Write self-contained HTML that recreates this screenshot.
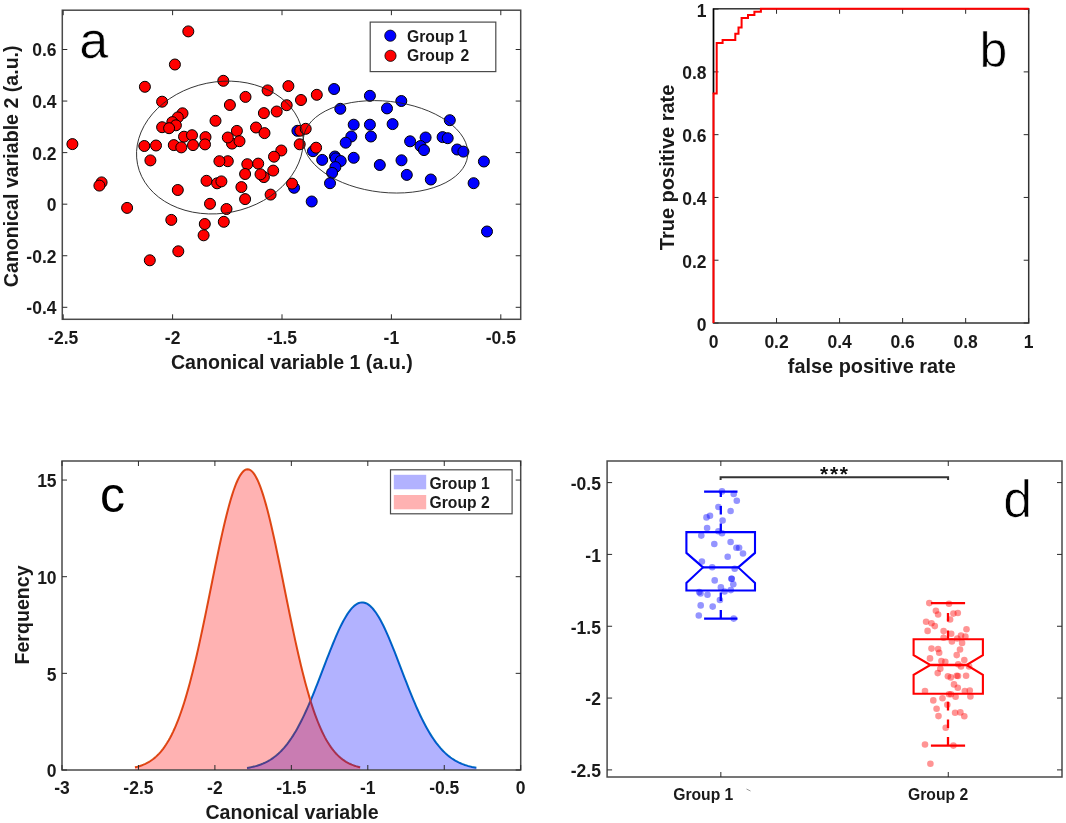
<!DOCTYPE html>
<html><head><meta charset="utf-8"><style>
html,body{margin:0;padding:0;background:#fff;}
svg{display:block;will-change:transform;font-family:"Liberation Sans", sans-serif;}
</style></head><body>
<svg width="1066" height="823" viewBox="0 0 1066 823">
<rect x="0" y="0" width="1066" height="823" fill="#fff"/>
<rect x="62.30" y="10.20" width="458.40" height="309.10" fill="none" stroke="#4a4a4a" stroke-width="1.5"/>
<line x1="63.20" y1="319.30" x2="63.20" y2="314.30" stroke="#2a2a2a" stroke-width="1" />
<line x1="63.20" y1="10.20" x2="63.20" y2="15.20" stroke="#2a2a2a" stroke-width="1" />
<line x1="172.60" y1="319.30" x2="172.60" y2="314.30" stroke="#2a2a2a" stroke-width="1" />
<line x1="172.60" y1="10.20" x2="172.60" y2="15.20" stroke="#2a2a2a" stroke-width="1" />
<line x1="282.00" y1="319.30" x2="282.00" y2="314.30" stroke="#2a2a2a" stroke-width="1" />
<line x1="282.00" y1="10.20" x2="282.00" y2="15.20" stroke="#2a2a2a" stroke-width="1" />
<line x1="391.40" y1="319.30" x2="391.40" y2="314.30" stroke="#2a2a2a" stroke-width="1" />
<line x1="391.40" y1="10.20" x2="391.40" y2="15.20" stroke="#2a2a2a" stroke-width="1" />
<line x1="500.80" y1="319.30" x2="500.80" y2="314.30" stroke="#2a2a2a" stroke-width="1" />
<line x1="500.80" y1="10.20" x2="500.80" y2="15.20" stroke="#2a2a2a" stroke-width="1" />
<line x1="62.30" y1="307.30" x2="67.30" y2="307.30" stroke="#2a2a2a" stroke-width="1" />
<line x1="520.70" y1="307.30" x2="515.70" y2="307.30" stroke="#2a2a2a" stroke-width="1" />
<line x1="62.30" y1="255.74" x2="67.30" y2="255.74" stroke="#2a2a2a" stroke-width="1" />
<line x1="520.70" y1="255.74" x2="515.70" y2="255.74" stroke="#2a2a2a" stroke-width="1" />
<line x1="62.30" y1="204.18" x2="67.30" y2="204.18" stroke="#2a2a2a" stroke-width="1" />
<line x1="520.70" y1="204.18" x2="515.70" y2="204.18" stroke="#2a2a2a" stroke-width="1" />
<line x1="62.30" y1="152.62" x2="67.30" y2="152.62" stroke="#2a2a2a" stroke-width="1" />
<line x1="520.70" y1="152.62" x2="515.70" y2="152.62" stroke="#2a2a2a" stroke-width="1" />
<line x1="62.30" y1="101.06" x2="67.30" y2="101.06" stroke="#2a2a2a" stroke-width="1" />
<line x1="520.70" y1="101.06" x2="515.70" y2="101.06" stroke="#2a2a2a" stroke-width="1" />
<line x1="62.30" y1="49.50" x2="67.30" y2="49.50" stroke="#2a2a2a" stroke-width="1" />
<line x1="520.70" y1="49.50" x2="515.70" y2="49.50" stroke="#2a2a2a" stroke-width="1" />
<text x="63.20" y="344.00" font-size="17.5" font-weight="bold" text-anchor="middle" fill="#1a1a1a" >-2.5</text>
<text x="172.60" y="344.00" font-size="17.5" font-weight="bold" text-anchor="middle" fill="#1a1a1a" >-2</text>
<text x="282.00" y="344.00" font-size="17.5" font-weight="bold" text-anchor="middle" fill="#1a1a1a" >-1.5</text>
<text x="391.40" y="344.00" font-size="17.5" font-weight="bold" text-anchor="middle" fill="#1a1a1a" >-1</text>
<text x="500.80" y="344.00" font-size="17.5" font-weight="bold" text-anchor="middle" fill="#1a1a1a" >-0.5</text>
<text x="56.50" y="314.20" font-size="17.5" font-weight="bold" text-anchor="end" fill="#1a1a1a" >-0.4</text>
<text x="56.50" y="262.64" font-size="17.5" font-weight="bold" text-anchor="end" fill="#1a1a1a" >-0.2</text>
<text x="56.50" y="211.08" font-size="17.5" font-weight="bold" text-anchor="end" fill="#1a1a1a" >0</text>
<text x="56.50" y="159.52" font-size="17.5" font-weight="bold" text-anchor="end" fill="#1a1a1a" >0.2</text>
<text x="56.50" y="107.96" font-size="17.5" font-weight="bold" text-anchor="end" fill="#1a1a1a" >0.4</text>
<text x="56.50" y="56.40" font-size="17.5" font-weight="bold" text-anchor="end" fill="#1a1a1a" >0.6</text>
<circle cx="334.1" cy="89" r="5.5" fill="#0000ff" stroke="#000" stroke-width="1"/>
<circle cx="369.9" cy="95.8" r="5.5" fill="#0000ff" stroke="#000" stroke-width="1"/>
<circle cx="401.3" cy="101" r="5.5" fill="#0000ff" stroke="#000" stroke-width="1"/>
<circle cx="340.3" cy="108.8" r="5.5" fill="#0000ff" stroke="#000" stroke-width="1"/>
<circle cx="387" cy="108.4" r="5.5" fill="#0000ff" stroke="#000" stroke-width="1"/>
<circle cx="449.8" cy="120.2" r="5.5" fill="#0000ff" stroke="#000" stroke-width="1"/>
<circle cx="353.7" cy="124.7" r="5.5" fill="#0000ff" stroke="#000" stroke-width="1"/>
<circle cx="369.9" cy="124.7" r="5.5" fill="#0000ff" stroke="#000" stroke-width="1"/>
<circle cx="392.6" cy="124.1" r="5.5" fill="#0000ff" stroke="#000" stroke-width="1"/>
<circle cx="351.3" cy="136.5" r="5.5" fill="#0000ff" stroke="#000" stroke-width="1"/>
<circle cx="370.9" cy="136.5" r="5.5" fill="#0000ff" stroke="#000" stroke-width="1"/>
<circle cx="345.7" cy="142.7" r="5.5" fill="#0000ff" stroke="#000" stroke-width="1"/>
<circle cx="410.1" cy="141.3" r="5.5" fill="#0000ff" stroke="#000" stroke-width="1"/>
<circle cx="425.6" cy="137.5" r="5.5" fill="#0000ff" stroke="#000" stroke-width="1"/>
<circle cx="442.6" cy="137.1" r="5.5" fill="#0000ff" stroke="#000" stroke-width="1"/>
<circle cx="447.7" cy="138.2" r="5.5" fill="#0000ff" stroke="#000" stroke-width="1"/>
<circle cx="420.5" cy="146" r="5.5" fill="#0000ff" stroke="#000" stroke-width="1"/>
<circle cx="424" cy="150.1" r="5.5" fill="#0000ff" stroke="#000" stroke-width="1"/>
<circle cx="457.2" cy="149.5" r="5.5" fill="#0000ff" stroke="#000" stroke-width="1"/>
<circle cx="463.4" cy="151.6" r="5.5" fill="#0000ff" stroke="#000" stroke-width="1"/>
<circle cx="297.4" cy="130.8" r="5.5" fill="#0000ff" stroke="#000" stroke-width="1"/>
<circle cx="313" cy="151.2" r="5.5" fill="#0000ff" stroke="#000" stroke-width="1"/>
<circle cx="322.2" cy="159.9" r="5.5" fill="#0000ff" stroke="#000" stroke-width="1"/>
<circle cx="334.9" cy="156.5" r="5.5" fill="#0000ff" stroke="#000" stroke-width="1"/>
<circle cx="335.8" cy="158.4" r="5.5" fill="#0000ff" stroke="#000" stroke-width="1"/>
<circle cx="340.7" cy="161" r="5.5" fill="#0000ff" stroke="#000" stroke-width="1"/>
<circle cx="353.7" cy="157.8" r="5.5" fill="#0000ff" stroke="#000" stroke-width="1"/>
<circle cx="335.4" cy="167.1" r="5.5" fill="#0000ff" stroke="#000" stroke-width="1"/>
<circle cx="332.1" cy="172.9" r="5.5" fill="#0000ff" stroke="#000" stroke-width="1"/>
<circle cx="330" cy="183.2" r="5.5" fill="#0000ff" stroke="#000" stroke-width="1"/>
<circle cx="379.8" cy="165" r="5.5" fill="#0000ff" stroke="#000" stroke-width="1"/>
<circle cx="401.5" cy="160.3" r="5.5" fill="#0000ff" stroke="#000" stroke-width="1"/>
<circle cx="406.8" cy="174.9" r="5.5" fill="#0000ff" stroke="#000" stroke-width="1"/>
<circle cx="430.8" cy="179.5" r="5.5" fill="#0000ff" stroke="#000" stroke-width="1"/>
<circle cx="483.9" cy="161.5" r="5.5" fill="#0000ff" stroke="#000" stroke-width="1"/>
<circle cx="473.6" cy="183.2" r="5.5" fill="#0000ff" stroke="#000" stroke-width="1"/>
<circle cx="294.1" cy="187.8" r="5.5" fill="#0000ff" stroke="#000" stroke-width="1"/>
<circle cx="311.7" cy="201.5" r="5.5" fill="#0000ff" stroke="#000" stroke-width="1"/>
<circle cx="487" cy="231.5" r="5.5" fill="#0000ff" stroke="#000" stroke-width="1"/>
<circle cx="188.3" cy="31.4" r="5.5" fill="#ff0000" stroke="#000" stroke-width="1"/>
<circle cx="174.9" cy="64.5" r="5.5" fill="#ff0000" stroke="#000" stroke-width="1"/>
<circle cx="144.9" cy="86.8" r="5.5" fill="#ff0000" stroke="#000" stroke-width="1"/>
<circle cx="162.1" cy="101.7" r="5.5" fill="#ff0000" stroke="#000" stroke-width="1"/>
<circle cx="182.5" cy="113.3" r="5.5" fill="#ff0000" stroke="#000" stroke-width="1"/>
<circle cx="177.8" cy="117.4" r="5.5" fill="#ff0000" stroke="#000" stroke-width="1"/>
<circle cx="172.3" cy="122.1" r="5.5" fill="#ff0000" stroke="#000" stroke-width="1"/>
<circle cx="175.9" cy="125.3" r="5.5" fill="#ff0000" stroke="#000" stroke-width="1"/>
<circle cx="162.1" cy="127.2" r="5.5" fill="#ff0000" stroke="#000" stroke-width="1"/>
<circle cx="169.1" cy="128.2" r="5.5" fill="#ff0000" stroke="#000" stroke-width="1"/>
<circle cx="184" cy="136.7" r="5.5" fill="#ff0000" stroke="#000" stroke-width="1"/>
<circle cx="192" cy="135.2" r="5.5" fill="#ff0000" stroke="#000" stroke-width="1"/>
<circle cx="72.4" cy="144.1" r="5.5" fill="#ff0000" stroke="#000" stroke-width="1"/>
<circle cx="101.6" cy="182.4" r="5.5" fill="#ff0000" stroke="#000" stroke-width="1"/>
<circle cx="99.4" cy="185.6" r="5.5" fill="#ff0000" stroke="#000" stroke-width="1"/>
<circle cx="127.1" cy="207.9" r="5.5" fill="#ff0000" stroke="#000" stroke-width="1"/>
<circle cx="144.3" cy="146" r="5.5" fill="#ff0000" stroke="#000" stroke-width="1"/>
<circle cx="156" cy="145.5" r="5.5" fill="#ff0000" stroke="#000" stroke-width="1"/>
<circle cx="150.4" cy="160.4" r="5.5" fill="#ff0000" stroke="#000" stroke-width="1"/>
<circle cx="173.8" cy="145.1" r="5.5" fill="#ff0000" stroke="#000" stroke-width="1"/>
<circle cx="181.3" cy="147.4" r="5.5" fill="#ff0000" stroke="#000" stroke-width="1"/>
<circle cx="193" cy="145.1" r="5.5" fill="#ff0000" stroke="#000" stroke-width="1"/>
<circle cx="177.8" cy="190" r="5.5" fill="#ff0000" stroke="#000" stroke-width="1"/>
<circle cx="171.3" cy="219.9" r="5.5" fill="#ff0000" stroke="#000" stroke-width="1"/>
<circle cx="210" cy="203.8" r="5.5" fill="#ff0000" stroke="#000" stroke-width="1"/>
<circle cx="226.5" cy="209" r="5.5" fill="#ff0000" stroke="#000" stroke-width="1"/>
<circle cx="204.8" cy="224" r="5.5" fill="#ff0000" stroke="#000" stroke-width="1"/>
<circle cx="223.8" cy="221.8" r="5.5" fill="#ff0000" stroke="#000" stroke-width="1"/>
<circle cx="203.6" cy="235.3" r="5.5" fill="#ff0000" stroke="#000" stroke-width="1"/>
<circle cx="178.3" cy="251.3" r="5.5" fill="#ff0000" stroke="#000" stroke-width="1"/>
<circle cx="149.8" cy="260.3" r="5.5" fill="#ff0000" stroke="#000" stroke-width="1"/>
<circle cx="223.3" cy="80.8" r="5.5" fill="#ff0000" stroke="#000" stroke-width="1"/>
<circle cx="267.6" cy="90.4" r="5.5" fill="#ff0000" stroke="#000" stroke-width="1"/>
<circle cx="288.4" cy="86.1" r="5.5" fill="#ff0000" stroke="#000" stroke-width="1"/>
<circle cx="245.5" cy="96.9" r="5.5" fill="#ff0000" stroke="#000" stroke-width="1"/>
<circle cx="229.9" cy="105" r="5.5" fill="#ff0000" stroke="#000" stroke-width="1"/>
<circle cx="286.7" cy="105.2" r="5.5" fill="#ff0000" stroke="#000" stroke-width="1"/>
<circle cx="276.7" cy="111.5" r="5.5" fill="#ff0000" stroke="#000" stroke-width="1"/>
<circle cx="263.9" cy="113.1" r="5.5" fill="#ff0000" stroke="#000" stroke-width="1"/>
<circle cx="301" cy="100" r="5.5" fill="#ff0000" stroke="#000" stroke-width="1"/>
<circle cx="316.8" cy="94.8" r="5.5" fill="#ff0000" stroke="#000" stroke-width="1"/>
<circle cx="215.5" cy="120.8" r="5.5" fill="#ff0000" stroke="#000" stroke-width="1"/>
<circle cx="256" cy="127.5" r="5.5" fill="#ff0000" stroke="#000" stroke-width="1"/>
<circle cx="264.5" cy="133.1" r="5.5" fill="#ff0000" stroke="#000" stroke-width="1"/>
<circle cx="236.9" cy="130.9" r="5.5" fill="#ff0000" stroke="#000" stroke-width="1"/>
<circle cx="232" cy="143.6" r="5.5" fill="#ff0000" stroke="#000" stroke-width="1"/>
<circle cx="227.8" cy="137.5" r="5.5" fill="#ff0000" stroke="#000" stroke-width="1"/>
<circle cx="239.5" cy="141.2" r="5.5" fill="#ff0000" stroke="#000" stroke-width="1"/>
<circle cx="205.5" cy="137.1" r="5.5" fill="#ff0000" stroke="#000" stroke-width="1"/>
<circle cx="205" cy="144.4" r="5.5" fill="#ff0000" stroke="#000" stroke-width="1"/>
<circle cx="281.3" cy="150.5" r="5.5" fill="#ff0000" stroke="#000" stroke-width="1"/>
<circle cx="300.3" cy="130.7" r="5.5" fill="#ff0000" stroke="#000" stroke-width="1"/>
<circle cx="305.7" cy="128.8" r="5.5" fill="#ff0000" stroke="#000" stroke-width="1"/>
<circle cx="299.7" cy="144.3" r="5.5" fill="#ff0000" stroke="#000" stroke-width="1"/>
<circle cx="316.1" cy="147.7" r="5.5" fill="#ff0000" stroke="#000" stroke-width="1"/>
<circle cx="274" cy="156.7" r="5.5" fill="#ff0000" stroke="#000" stroke-width="1"/>
<circle cx="227.8" cy="161.2" r="5.5" fill="#ff0000" stroke="#000" stroke-width="1"/>
<circle cx="219.4" cy="161.2" r="5.5" fill="#ff0000" stroke="#000" stroke-width="1"/>
<circle cx="247.3" cy="164.2" r="5.5" fill="#ff0000" stroke="#000" stroke-width="1"/>
<circle cx="258.2" cy="163.6" r="5.5" fill="#ff0000" stroke="#000" stroke-width="1"/>
<circle cx="245.1" cy="174" r="5.5" fill="#ff0000" stroke="#000" stroke-width="1"/>
<circle cx="263.9" cy="177.1" r="5.5" fill="#ff0000" stroke="#000" stroke-width="1"/>
<circle cx="260.5" cy="174.3" r="5.5" fill="#ff0000" stroke="#000" stroke-width="1"/>
<circle cx="273.2" cy="170.6" r="5.5" fill="#ff0000" stroke="#000" stroke-width="1"/>
<circle cx="206.5" cy="180.8" r="5.5" fill="#ff0000" stroke="#000" stroke-width="1"/>
<circle cx="217.1" cy="183.3" r="5.5" fill="#ff0000" stroke="#000" stroke-width="1"/>
<circle cx="221.4" cy="181.4" r="5.5" fill="#ff0000" stroke="#000" stroke-width="1"/>
<circle cx="241.4" cy="187.1" r="5.5" fill="#ff0000" stroke="#000" stroke-width="1"/>
<circle cx="292" cy="183.6" r="5.5" fill="#ff0000" stroke="#000" stroke-width="1"/>
<circle cx="245.1" cy="199.1" r="5.5" fill="#ff0000" stroke="#000" stroke-width="1"/>
<circle cx="270.6" cy="194.6" r="5.5" fill="#ff0000" stroke="#000" stroke-width="1"/>
<ellipse cx="219.86" cy="147.54" rx="84.0" ry="65.6" transform="rotate(-11.5 219.86 147.54)" fill="none" stroke="#222" stroke-width="0.85"/>
<ellipse cx="385.56" cy="146.82" rx="82.6" ry="45.6" transform="rotate(6.28 385.56 146.82)" fill="none" stroke="#222" stroke-width="0.85"/>
<rect x="370.20" y="22.10" width="125.60" height="49.50" fill="#fff" stroke="#4a4a4a" stroke-width="1.2"/>
<circle cx="390.3" cy="35.7" r="5.6" fill="#0000ff" stroke="#000" stroke-width="0.8"/>
<circle cx="390.5" cy="55.8" r="5.6" fill="#ff0000" stroke="#000" stroke-width="0.8"/>
<text x="407.00" y="41.90" font-size="15.7" font-weight="bold" text-anchor="start" fill="#1a1a1a" >Group 1</text>
<text x="407.00" y="61.40" font-size="15.7" font-weight="bold" text-anchor="start" fill="#1a1a1a" word-spacing="2">Group 2</text>
<text x="79.30" y="57.50" font-size="52" font-weight="normal" text-anchor="start" fill="#000" stroke="#fff" stroke-width="0.6">a</text>
<text x="291.80" y="368.70" font-size="19.6" font-weight="bold" text-anchor="middle" fill="#1a1a1a" >Canonical variable 1 (a.u.)</text>
<text x="18.20" y="166.30" font-size="19.6" font-weight="bold" text-anchor="middle" fill="#1a1a1a" transform="rotate(-90 18.20 166.30)" >Canonical variable 2 (a.u.)</text>
<rect x="713.50" y="8.80" width="315.20" height="314.20" fill="none" stroke="#333" stroke-width="1.5"/>
<line x1="713.50" y1="323.00" x2="713.50" y2="318.00" stroke="#2a2a2a" stroke-width="1" />
<line x1="713.50" y1="8.80" x2="713.50" y2="13.80" stroke="#2a2a2a" stroke-width="1" />
<line x1="776.54" y1="323.00" x2="776.54" y2="318.00" stroke="#2a2a2a" stroke-width="1" />
<line x1="776.54" y1="8.80" x2="776.54" y2="13.80" stroke="#2a2a2a" stroke-width="1" />
<line x1="839.58" y1="323.00" x2="839.58" y2="318.00" stroke="#2a2a2a" stroke-width="1" />
<line x1="839.58" y1="8.80" x2="839.58" y2="13.80" stroke="#2a2a2a" stroke-width="1" />
<line x1="902.62" y1="323.00" x2="902.62" y2="318.00" stroke="#2a2a2a" stroke-width="1" />
<line x1="902.62" y1="8.80" x2="902.62" y2="13.80" stroke="#2a2a2a" stroke-width="1" />
<line x1="965.66" y1="323.00" x2="965.66" y2="318.00" stroke="#2a2a2a" stroke-width="1" />
<line x1="965.66" y1="8.80" x2="965.66" y2="13.80" stroke="#2a2a2a" stroke-width="1" />
<line x1="1028.70" y1="323.00" x2="1028.70" y2="318.00" stroke="#2a2a2a" stroke-width="1" />
<line x1="1028.70" y1="8.80" x2="1028.70" y2="13.80" stroke="#2a2a2a" stroke-width="1" />
<line x1="713.50" y1="323.00" x2="718.50" y2="323.00" stroke="#2a2a2a" stroke-width="1" />
<line x1="1028.70" y1="323.00" x2="1023.70" y2="323.00" stroke="#2a2a2a" stroke-width="1" />
<line x1="713.50" y1="260.22" x2="718.50" y2="260.22" stroke="#2a2a2a" stroke-width="1" />
<line x1="1028.70" y1="260.22" x2="1023.70" y2="260.22" stroke="#2a2a2a" stroke-width="1" />
<line x1="713.50" y1="197.44" x2="718.50" y2="197.44" stroke="#2a2a2a" stroke-width="1" />
<line x1="1028.70" y1="197.44" x2="1023.70" y2="197.44" stroke="#2a2a2a" stroke-width="1" />
<line x1="713.50" y1="134.66" x2="718.50" y2="134.66" stroke="#2a2a2a" stroke-width="1" />
<line x1="1028.70" y1="134.66" x2="1023.70" y2="134.66" stroke="#2a2a2a" stroke-width="1" />
<line x1="713.50" y1="71.88" x2="718.50" y2="71.88" stroke="#2a2a2a" stroke-width="1" />
<line x1="1028.70" y1="71.88" x2="1023.70" y2="71.88" stroke="#2a2a2a" stroke-width="1" />
<line x1="713.50" y1="9.10" x2="718.50" y2="9.10" stroke="#2a2a2a" stroke-width="1" />
<line x1="1028.70" y1="9.10" x2="1023.70" y2="9.10" stroke="#2a2a2a" stroke-width="1" />
<text x="713.50" y="348.30" font-size="17.5" font-weight="bold" text-anchor="middle" fill="#1a1a1a" >0</text>
<text x="776.54" y="348.30" font-size="17.5" font-weight="bold" text-anchor="middle" fill="#1a1a1a" >0.2</text>
<text x="839.58" y="348.30" font-size="17.5" font-weight="bold" text-anchor="middle" fill="#1a1a1a" >0.4</text>
<text x="902.62" y="348.30" font-size="17.5" font-weight="bold" text-anchor="middle" fill="#1a1a1a" >0.6</text>
<text x="965.66" y="348.30" font-size="17.5" font-weight="bold" text-anchor="middle" fill="#1a1a1a" >0.8</text>
<text x="1028.70" y="348.30" font-size="17.5" font-weight="bold" text-anchor="middle" fill="#1a1a1a" >1</text>
<text x="706.50" y="330.60" font-size="17.5" font-weight="bold" text-anchor="end" fill="#1a1a1a" >0</text>
<text x="706.50" y="267.82" font-size="17.5" font-weight="bold" text-anchor="end" fill="#1a1a1a" >0.2</text>
<text x="706.50" y="205.04" font-size="17.5" font-weight="bold" text-anchor="end" fill="#1a1a1a" >0.4</text>
<text x="706.50" y="142.26" font-size="17.5" font-weight="bold" text-anchor="end" fill="#1a1a1a" >0.6</text>
<text x="706.50" y="79.48" font-size="17.5" font-weight="bold" text-anchor="end" fill="#1a1a1a" >0.8</text>
<text x="706.50" y="16.70" font-size="17.5" font-weight="bold" text-anchor="end" fill="#1a1a1a" >1</text>
<line x1="713.50" y1="8.80" x2="713.50" y2="94.00" stroke="#000" stroke-width="1.4" />
<path d="M713.5,323 V93.6 H716.7 V43 H722.6 V40.1 H735.3 V33.8 H738.5 V27.6 H741.6 V18.1 H748 V15.1 H754.4 V11.7 H760.9 V8.8 H1028.7" fill="none" stroke="#ff0000" stroke-width="2"/>
<text x="979.40" y="66.60" font-size="50" font-weight="normal" text-anchor="start" fill="#000" stroke="#fff" stroke-width="0.7">b</text>
<text x="871.80" y="373.20" font-size="19.9" font-weight="bold" text-anchor="middle" fill="#1a1a1a" >false positive rate</text>
<text x="674.10" y="167.40" font-size="20" font-weight="bold" text-anchor="middle" fill="#1a1a1a" transform="rotate(-90 674.10 167.40)" >True positive rate</text>
<path d="M247.01,767.93 L248.44,767.69 L249.88,767.43 L251.31,767.14 L252.74,766.83 L254.18,766.48 L255.61,766.11 L257.04,765.70 L258.48,765.25 L259.91,764.76 L261.34,764.23 L262.78,763.65 L264.21,763.03 L265.64,762.35 L267.08,761.62 L268.51,760.84 L269.94,759.99 L271.38,759.08 L272.81,758.11 L274.24,757.06 L275.68,755.94 L277.11,754.75 L278.54,753.48 L279.98,752.12 L281.41,750.68 L282.84,749.16 L284.28,747.54 L285.71,745.83 L287.15,744.03 L288.58,742.13 L290.01,740.13 L291.45,738.03 L292.88,735.84 L294.31,733.54 L295.75,731.14 L297.18,728.63 L298.61,726.03 L300.05,723.32 L301.48,720.52 L302.91,717.62 L304.35,714.62 L305.78,711.54 L307.21,708.36 L308.65,705.10 L310.08,701.76 L311.51,698.35 L312.95,694.87 L314.38,691.33 L315.81,687.73 L317.25,684.09 L318.68,680.40 L320.11,676.69 L321.55,672.95 L322.98,669.20 L324.41,665.45 L325.85,661.71 L327.28,657.98 L328.71,654.29 L330.15,650.63 L331.58,647.03 L333.02,643.50 L334.45,640.03 L335.88,636.66 L337.32,633.38 L338.75,630.21 L340.18,627.17 L341.62,624.26 L343.05,621.49 L344.48,618.87 L345.92,616.42 L347.35,614.14 L348.78,612.04 L350.22,610.13 L351.65,608.42 L353.08,606.91 L354.52,605.61 L355.95,604.53 L357.38,603.66 L358.82,603.02 L360.25,602.61 L361.68,602.42 L363.12,602.46 L364.55,602.73 L365.98,603.23 L367.42,603.95 L368.85,604.89 L370.28,606.05 L371.72,607.43 L373.15,609.01 L374.58,610.79 L376.02,612.77 L377.45,614.94 L378.89,617.28 L380.32,619.79 L381.75,622.47 L383.19,625.29 L384.62,628.25 L386.05,631.34 L387.49,634.55 L388.92,637.86 L390.35,641.27 L391.79,644.76 L393.22,648.32 L394.65,651.94 L396.09,655.61 L397.52,659.32 L398.95,663.05 L400.39,666.80 L401.82,670.55 L403.25,674.30 L404.69,678.03 L406.12,681.73 L407.55,685.40 L408.99,689.03 L410.42,692.61 L411.85,696.13 L413.29,699.59 L414.72,702.97 L416.15,706.28 L417.59,709.51 L419.02,712.66 L420.45,715.71 L421.89,718.67 L423.32,721.54 L424.76,724.31 L426.19,726.98 L427.62,729.55 L429.06,732.01 L430.49,734.38 L431.92,736.64 L433.36,738.80 L434.79,740.86 L436.22,742.83 L437.66,744.69 L439.09,746.46 L440.52,748.13 L441.96,749.72 L443.39,751.21 L444.82,752.62 L446.26,753.94 L447.69,755.19 L449.12,756.35 L450.56,757.44 L451.99,758.46 L453.42,759.42 L454.86,760.30 L456.29,761.13 L457.72,761.89 L459.16,762.60 L460.59,763.26 L462.02,763.86 L463.46,764.42 L464.89,764.94 L466.32,765.41 L467.76,765.85 L469.19,766.25 L470.63,766.61 L472.06,766.95 L473.49,767.25 L474.93,767.53 L476.36,767.78" fill="none" stroke="#0072bd" stroke-width="2"/>
<path d="M134.93,767.31 L136.34,766.97 L137.75,766.60 L139.16,766.19 L140.56,765.73 L141.97,765.23 L143.38,764.68 L144.79,764.07 L146.19,763.40 L147.60,762.67 L149.01,761.87 L150.42,760.99 L151.82,760.04 L153.23,758.99 L154.64,757.86 L156.05,756.63 L157.46,755.30 L158.86,753.86 L160.27,752.30 L161.68,750.63 L163.09,748.82 L164.49,746.88 L165.90,744.80 L167.31,742.58 L168.72,740.20 L170.12,737.66 L171.53,734.95 L172.94,732.08 L174.35,729.03 L175.75,725.80 L177.16,722.39 L178.57,718.79 L179.98,715.00 L181.39,711.01 L182.79,706.83 L184.20,702.45 L185.61,697.87 L187.02,693.09 L188.42,688.13 L189.83,682.96 L191.24,677.61 L192.65,672.07 L194.05,666.36 L195.46,660.47 L196.87,654.42 L198.28,648.21 L199.68,641.86 L201.09,635.37 L202.50,628.77 L203.91,622.05 L205.32,615.25 L206.72,608.37 L208.13,601.44 L209.54,594.46 L210.95,587.47 L212.35,580.47 L213.76,573.50 L215.17,566.57 L216.58,559.70 L217.98,552.93 L219.39,546.26 L220.80,539.73 L222.21,533.36 L223.61,527.17 L225.02,521.18 L226.43,515.42 L227.84,509.91 L229.24,504.67 L230.65,499.72 L232.06,495.09 L233.47,490.78 L234.88,486.83 L236.28,483.24 L237.69,480.04 L239.10,477.23 L240.51,474.83 L241.91,472.84 L243.32,471.28 L244.73,470.16 L246.14,469.47 L247.54,469.23 L248.95,469.42 L250.36,470.06 L251.77,471.14 L253.17,472.65 L254.58,474.59 L255.99,476.95 L257.40,479.71 L258.81,482.88 L260.21,486.42 L261.62,490.34 L263.03,494.60 L264.44,499.20 L265.84,504.12 L267.25,509.32 L268.66,514.81 L270.07,520.54 L271.47,526.51 L272.88,532.68 L274.29,539.03 L275.70,545.55 L277.10,552.20 L278.51,558.96 L279.92,565.82 L281.33,572.74 L282.74,579.71 L284.14,586.71 L285.55,593.70 L286.96,600.68 L288.37,607.62 L289.77,614.51 L291.18,621.32 L292.59,628.04 L294.00,634.66 L295.40,641.16 L296.81,647.53 L298.22,653.75 L299.63,659.82 L301.03,665.73 L302.44,671.46 L303.85,677.02 L305.26,682.39 L306.66,687.57 L308.07,692.56 L309.48,697.36 L310.89,701.96 L312.30,706.36 L313.70,710.56 L315.11,714.57 L316.52,718.39 L317.93,722.01 L319.33,725.44 L320.74,728.69 L322.15,731.76 L323.56,734.65 L324.96,737.37 L326.37,739.93 L327.78,742.32 L329.19,744.57 L330.59,746.66 L332.00,748.62 L333.41,750.44 L334.82,752.13 L336.23,753.70 L337.63,755.15 L339.04,756.49 L340.45,757.73 L341.86,758.88 L343.26,759.93 L344.67,760.89 L346.08,761.78 L347.49,762.59 L348.89,763.33 L350.30,764.00 L351.71,764.62 L353.12,765.17 L354.52,765.68 L355.93,766.14 L357.34,766.56 L358.75,766.93 L360.16,767.27" fill="none" stroke="#d95319" stroke-width="2"/>
<path d="M247.01,767.93 L248.44,767.69 L249.88,767.43 L251.31,767.14 L252.74,766.83 L254.18,766.48 L255.61,766.11 L257.04,765.70 L258.48,765.25 L259.91,764.76 L261.34,764.23 L262.78,763.65 L264.21,763.03 L265.64,762.35 L267.08,761.62 L268.51,760.84 L269.94,759.99 L271.38,759.08 L272.81,758.11 L274.24,757.06 L275.68,755.94 L277.11,754.75 L278.54,753.48 L279.98,752.12 L281.41,750.68 L282.84,749.16 L284.28,747.54 L285.71,745.83 L287.15,744.03 L288.58,742.13 L290.01,740.13 L291.45,738.03 L292.88,735.84 L294.31,733.54 L295.75,731.14 L297.18,728.63 L298.61,726.03 L300.05,723.32 L301.48,720.52 L302.91,717.62 L304.35,714.62 L305.78,711.54 L307.21,708.36 L308.65,705.10 L310.08,701.76 L311.51,698.35 L312.95,694.87 L314.38,691.33 L315.81,687.73 L317.25,684.09 L318.68,680.40 L320.11,676.69 L321.55,672.95 L322.98,669.20 L324.41,665.45 L325.85,661.71 L327.28,657.98 L328.71,654.29 L330.15,650.63 L331.58,647.03 L333.02,643.50 L334.45,640.03 L335.88,636.66 L337.32,633.38 L338.75,630.21 L340.18,627.17 L341.62,624.26 L343.05,621.49 L344.48,618.87 L345.92,616.42 L347.35,614.14 L348.78,612.04 L350.22,610.13 L351.65,608.42 L353.08,606.91 L354.52,605.61 L355.95,604.53 L357.38,603.66 L358.82,603.02 L360.25,602.61 L361.68,602.42 L363.12,602.46 L364.55,602.73 L365.98,603.23 L367.42,603.95 L368.85,604.89 L370.28,606.05 L371.72,607.43 L373.15,609.01 L374.58,610.79 L376.02,612.77 L377.45,614.94 L378.89,617.28 L380.32,619.79 L381.75,622.47 L383.19,625.29 L384.62,628.25 L386.05,631.34 L387.49,634.55 L388.92,637.86 L390.35,641.27 L391.79,644.76 L393.22,648.32 L394.65,651.94 L396.09,655.61 L397.52,659.32 L398.95,663.05 L400.39,666.80 L401.82,670.55 L403.25,674.30 L404.69,678.03 L406.12,681.73 L407.55,685.40 L408.99,689.03 L410.42,692.61 L411.85,696.13 L413.29,699.59 L414.72,702.97 L416.15,706.28 L417.59,709.51 L419.02,712.66 L420.45,715.71 L421.89,718.67 L423.32,721.54 L424.76,724.31 L426.19,726.98 L427.62,729.55 L429.06,732.01 L430.49,734.38 L431.92,736.64 L433.36,738.80 L434.79,740.86 L436.22,742.83 L437.66,744.69 L439.09,746.46 L440.52,748.13 L441.96,749.72 L443.39,751.21 L444.82,752.62 L446.26,753.94 L447.69,755.19 L449.12,756.35 L450.56,757.44 L451.99,758.46 L453.42,759.42 L454.86,760.30 L456.29,761.13 L457.72,761.89 L459.16,762.60 L460.59,763.26 L462.02,763.86 L463.46,764.42 L464.89,764.94 L466.32,765.41 L467.76,765.85 L469.19,766.25 L470.63,766.61 L472.06,766.95 L473.49,767.25 L474.93,767.53 L476.36,767.78 L476.36,770 L247.01,770 Z" fill="#0000ff" fill-opacity="0.3" stroke="none"/>
<path d="M134.93,767.31 L136.34,766.97 L137.75,766.60 L139.16,766.19 L140.56,765.73 L141.97,765.23 L143.38,764.68 L144.79,764.07 L146.19,763.40 L147.60,762.67 L149.01,761.87 L150.42,760.99 L151.82,760.04 L153.23,758.99 L154.64,757.86 L156.05,756.63 L157.46,755.30 L158.86,753.86 L160.27,752.30 L161.68,750.63 L163.09,748.82 L164.49,746.88 L165.90,744.80 L167.31,742.58 L168.72,740.20 L170.12,737.66 L171.53,734.95 L172.94,732.08 L174.35,729.03 L175.75,725.80 L177.16,722.39 L178.57,718.79 L179.98,715.00 L181.39,711.01 L182.79,706.83 L184.20,702.45 L185.61,697.87 L187.02,693.09 L188.42,688.13 L189.83,682.96 L191.24,677.61 L192.65,672.07 L194.05,666.36 L195.46,660.47 L196.87,654.42 L198.28,648.21 L199.68,641.86 L201.09,635.37 L202.50,628.77 L203.91,622.05 L205.32,615.25 L206.72,608.37 L208.13,601.44 L209.54,594.46 L210.95,587.47 L212.35,580.47 L213.76,573.50 L215.17,566.57 L216.58,559.70 L217.98,552.93 L219.39,546.26 L220.80,539.73 L222.21,533.36 L223.61,527.17 L225.02,521.18 L226.43,515.42 L227.84,509.91 L229.24,504.67 L230.65,499.72 L232.06,495.09 L233.47,490.78 L234.88,486.83 L236.28,483.24 L237.69,480.04 L239.10,477.23 L240.51,474.83 L241.91,472.84 L243.32,471.28 L244.73,470.16 L246.14,469.47 L247.54,469.23 L248.95,469.42 L250.36,470.06 L251.77,471.14 L253.17,472.65 L254.58,474.59 L255.99,476.95 L257.40,479.71 L258.81,482.88 L260.21,486.42 L261.62,490.34 L263.03,494.60 L264.44,499.20 L265.84,504.12 L267.25,509.32 L268.66,514.81 L270.07,520.54 L271.47,526.51 L272.88,532.68 L274.29,539.03 L275.70,545.55 L277.10,552.20 L278.51,558.96 L279.92,565.82 L281.33,572.74 L282.74,579.71 L284.14,586.71 L285.55,593.70 L286.96,600.68 L288.37,607.62 L289.77,614.51 L291.18,621.32 L292.59,628.04 L294.00,634.66 L295.40,641.16 L296.81,647.53 L298.22,653.75 L299.63,659.82 L301.03,665.73 L302.44,671.46 L303.85,677.02 L305.26,682.39 L306.66,687.57 L308.07,692.56 L309.48,697.36 L310.89,701.96 L312.30,706.36 L313.70,710.56 L315.11,714.57 L316.52,718.39 L317.93,722.01 L319.33,725.44 L320.74,728.69 L322.15,731.76 L323.56,734.65 L324.96,737.37 L326.37,739.93 L327.78,742.32 L329.19,744.57 L330.59,746.66 L332.00,748.62 L333.41,750.44 L334.82,752.13 L336.23,753.70 L337.63,755.15 L339.04,756.49 L340.45,757.73 L341.86,758.88 L343.26,759.93 L344.67,760.89 L346.08,761.78 L347.49,762.59 L348.89,763.33 L350.30,764.00 L351.71,764.62 L353.12,765.17 L354.52,765.68 L355.93,766.14 L357.34,766.56 L358.75,766.93 L360.16,767.27 L360.16,770 L134.93,770 Z" fill="#ff0000" fill-opacity="0.3" stroke="none"/>
<rect x="62.00" y="461.00" width="458.70" height="309.00" fill="none" stroke="#4a4a4a" stroke-width="1.5"/>
<line x1="62.00" y1="770.00" x2="62.00" y2="765.00" stroke="#2a2a2a" stroke-width="1" />
<line x1="62.00" y1="461.00" x2="62.00" y2="466.00" stroke="#2a2a2a" stroke-width="1" />
<line x1="138.45" y1="770.00" x2="138.45" y2="765.00" stroke="#2a2a2a" stroke-width="1" />
<line x1="138.45" y1="461.00" x2="138.45" y2="466.00" stroke="#2a2a2a" stroke-width="1" />
<line x1="214.90" y1="770.00" x2="214.90" y2="765.00" stroke="#2a2a2a" stroke-width="1" />
<line x1="214.90" y1="461.00" x2="214.90" y2="466.00" stroke="#2a2a2a" stroke-width="1" />
<line x1="291.35" y1="770.00" x2="291.35" y2="765.00" stroke="#2a2a2a" stroke-width="1" />
<line x1="291.35" y1="461.00" x2="291.35" y2="466.00" stroke="#2a2a2a" stroke-width="1" />
<line x1="367.80" y1="770.00" x2="367.80" y2="765.00" stroke="#2a2a2a" stroke-width="1" />
<line x1="367.80" y1="461.00" x2="367.80" y2="466.00" stroke="#2a2a2a" stroke-width="1" />
<line x1="444.25" y1="770.00" x2="444.25" y2="765.00" stroke="#2a2a2a" stroke-width="1" />
<line x1="444.25" y1="461.00" x2="444.25" y2="466.00" stroke="#2a2a2a" stroke-width="1" />
<line x1="520.70" y1="770.00" x2="520.70" y2="765.00" stroke="#2a2a2a" stroke-width="1" />
<line x1="520.70" y1="461.00" x2="520.70" y2="466.00" stroke="#2a2a2a" stroke-width="1" />
<line x1="62.00" y1="770.00" x2="67.00" y2="770.00" stroke="#2a2a2a" stroke-width="1" />
<line x1="520.70" y1="770.00" x2="515.70" y2="770.00" stroke="#2a2a2a" stroke-width="1" />
<line x1="62.00" y1="673.35" x2="67.00" y2="673.35" stroke="#2a2a2a" stroke-width="1" />
<line x1="520.70" y1="673.35" x2="515.70" y2="673.35" stroke="#2a2a2a" stroke-width="1" />
<line x1="62.00" y1="576.70" x2="67.00" y2="576.70" stroke="#2a2a2a" stroke-width="1" />
<line x1="520.70" y1="576.70" x2="515.70" y2="576.70" stroke="#2a2a2a" stroke-width="1" />
<line x1="62.00" y1="480.05" x2="67.00" y2="480.05" stroke="#2a2a2a" stroke-width="1" />
<line x1="520.70" y1="480.05" x2="515.70" y2="480.05" stroke="#2a2a2a" stroke-width="1" />
<text x="62.00" y="793.70" font-size="17.5" font-weight="bold" text-anchor="middle" fill="#1a1a1a" >-3</text>
<text x="138.45" y="793.70" font-size="17.5" font-weight="bold" text-anchor="middle" fill="#1a1a1a" >-2.5</text>
<text x="214.90" y="793.70" font-size="17.5" font-weight="bold" text-anchor="middle" fill="#1a1a1a" >-2</text>
<text x="291.35" y="793.70" font-size="17.5" font-weight="bold" text-anchor="middle" fill="#1a1a1a" >-1.5</text>
<text x="367.80" y="793.70" font-size="17.5" font-weight="bold" text-anchor="middle" fill="#1a1a1a" >-1</text>
<text x="444.25" y="793.70" font-size="17.5" font-weight="bold" text-anchor="middle" fill="#1a1a1a" >-0.5</text>
<text x="520.70" y="793.70" font-size="17.5" font-weight="bold" text-anchor="middle" fill="#1a1a1a" >0</text>
<text x="56.60" y="777.40" font-size="17.5" font-weight="bold" text-anchor="end" fill="#1a1a1a" >0</text>
<text x="56.60" y="680.75" font-size="17.5" font-weight="bold" text-anchor="end" fill="#1a1a1a" >5</text>
<text x="56.60" y="584.10" font-size="17.5" font-weight="bold" text-anchor="end" fill="#1a1a1a" >10</text>
<text x="56.60" y="487.45" font-size="17.5" font-weight="bold" text-anchor="end" fill="#1a1a1a" >15</text>
<rect x="390.50" y="469.80" width="121.60" height="44.00" fill="#fff" stroke="#4a4a4a" stroke-width="1.2"/>
<rect x="393.8" y="474.8" width="32.4" height="14.5" fill="#0000ff" fill-opacity="0.3"/>
<rect x="393.8" y="495" width="32.4" height="14.3" fill="#ff0000" fill-opacity="0.3"/>
<text x="429.50" y="488.70" font-size="15.7" font-weight="bold" text-anchor="start" fill="#1a1a1a" >Group 1</text>
<text x="429.50" y="507.70" font-size="15.7" font-weight="bold" text-anchor="start" fill="#1a1a1a" >Group 2</text>
<text x="100.10" y="511.60" font-size="50" font-weight="normal" text-anchor="start" fill="#000" >c</text>
<text x="292.00" y="818.70" font-size="19.6" font-weight="bold" text-anchor="middle" fill="#1a1a1a" >Canonical variable</text>
<text x="28.90" y="615.00" font-size="19.6" font-weight="bold" text-anchor="middle" fill="#1a1a1a" transform="rotate(-90 28.90 615.00)" >Ferquency</text>
<rect x="607.10" y="461.00" width="454.90" height="316.00" fill="none" stroke="#4a4a4a" stroke-width="1.5"/>
<line x1="720.83" y1="777.00" x2="720.83" y2="772.00" stroke="#2a2a2a" stroke-width="1" />
<line x1="720.83" y1="461.00" x2="720.83" y2="466.00" stroke="#2a2a2a" stroke-width="1" />
<line x1="948.27" y1="777.00" x2="948.27" y2="772.00" stroke="#2a2a2a" stroke-width="1" />
<line x1="948.27" y1="461.00" x2="948.27" y2="466.00" stroke="#2a2a2a" stroke-width="1" />
<line x1="607.10" y1="769.90" x2="612.10" y2="769.90" stroke="#2a2a2a" stroke-width="1" />
<line x1="1062.00" y1="769.90" x2="1057.00" y2="769.90" stroke="#2a2a2a" stroke-width="1" />
<line x1="607.10" y1="698.07" x2="612.10" y2="698.07" stroke="#2a2a2a" stroke-width="1" />
<line x1="1062.00" y1="698.07" x2="1057.00" y2="698.07" stroke="#2a2a2a" stroke-width="1" />
<line x1="607.10" y1="626.25" x2="612.10" y2="626.25" stroke="#2a2a2a" stroke-width="1" />
<line x1="1062.00" y1="626.25" x2="1057.00" y2="626.25" stroke="#2a2a2a" stroke-width="1" />
<line x1="607.10" y1="554.42" x2="612.10" y2="554.42" stroke="#2a2a2a" stroke-width="1" />
<line x1="1062.00" y1="554.42" x2="1057.00" y2="554.42" stroke="#2a2a2a" stroke-width="1" />
<line x1="607.10" y1="482.60" x2="612.10" y2="482.60" stroke="#2a2a2a" stroke-width="1" />
<line x1="1062.00" y1="482.60" x2="1057.00" y2="482.60" stroke="#2a2a2a" stroke-width="1" />
<text x="600.90" y="777.30" font-size="17.5" font-weight="bold" text-anchor="end" fill="#1a1a1a" >-2.5</text>
<text x="600.90" y="705.47" font-size="17.5" font-weight="bold" text-anchor="end" fill="#1a1a1a" >-2</text>
<text x="600.90" y="633.65" font-size="17.5" font-weight="bold" text-anchor="end" fill="#1a1a1a" >-1.5</text>
<text x="600.90" y="561.82" font-size="17.5" font-weight="bold" text-anchor="end" fill="#1a1a1a" >-1</text>
<text x="600.90" y="490.00" font-size="17.5" font-weight="bold" text-anchor="end" fill="#1a1a1a" >-0.5</text>
<text x="673.20" y="800.30" font-size="15.7" font-weight="bold" text-anchor="start" fill="#1a1a1a" >Group 1</text>
<text x="908.00" y="800.30" font-size="15.7" font-weight="bold" text-anchor="start" fill="#1a1a1a" >Group 2</text>
<line x1="746.50" y1="789.00" x2="750.50" y2="791.00" stroke="#999" stroke-width="1" />
<path d="M720.6,480 V477.2 H948.1 V480" fill="none" stroke="#333" stroke-width="2"/>
<text x="834.90" y="481.30" font-size="21" font-weight="bold" text-anchor="middle" fill="#111" letter-spacing="1.7">***</text>
<text x="1003.30" y="516.60" font-size="52" font-weight="normal" text-anchor="start" fill="#000" stroke="#fff" stroke-width="0.7">d</text>
<circle cx="722" cy="491.4" r="3.3" fill="#0000ff" fill-opacity="0.42"/>
<circle cx="733.7" cy="494" r="3.3" fill="#0000ff" fill-opacity="0.42"/>
<circle cx="736.8" cy="500.7" r="3.3" fill="#0000ff" fill-opacity="0.42"/>
<circle cx="718.4" cy="507" r="3.3" fill="#0000ff" fill-opacity="0.42"/>
<circle cx="730.6" cy="511" r="3.3" fill="#0000ff" fill-opacity="0.42"/>
<circle cx="706.5" cy="517.4" r="3.3" fill="#0000ff" fill-opacity="0.42"/>
<circle cx="710" cy="515.8" r="3.3" fill="#0000ff" fill-opacity="0.42"/>
<circle cx="722.6" cy="520.5" r="3.3" fill="#0000ff" fill-opacity="0.42"/>
<circle cx="707.1" cy="528.1" r="3.3" fill="#0000ff" fill-opacity="0.42"/>
<circle cx="718.4" cy="531.2" r="3.3" fill="#0000ff" fill-opacity="0.42"/>
<circle cx="722" cy="533.3" r="3.3" fill="#0000ff" fill-opacity="0.42"/>
<circle cx="701.3" cy="535.6" r="3.3" fill="#0000ff" fill-opacity="0.42"/>
<circle cx="714.3" cy="544" r="3.3" fill="#0000ff" fill-opacity="0.42"/>
<circle cx="730.6" cy="542" r="3.3" fill="#0000ff" fill-opacity="0.42"/>
<circle cx="736.4" cy="547.8" r="3.3" fill="#0000ff" fill-opacity="0.42"/>
<circle cx="739.1" cy="547.8" r="3.3" fill="#0000ff" fill-opacity="0.42"/>
<circle cx="743" cy="553.5" r="3.3" fill="#0000ff" fill-opacity="0.42"/>
<circle cx="727.7" cy="556.8" r="3.3" fill="#0000ff" fill-opacity="0.42"/>
<circle cx="701.9" cy="561.6" r="3.3" fill="#0000ff" fill-opacity="0.42"/>
<circle cx="712.2" cy="567.2" r="3.3" fill="#0000ff" fill-opacity="0.42"/>
<circle cx="734.7" cy="568.8" r="3.3" fill="#0000ff" fill-opacity="0.42"/>
<circle cx="714.7" cy="580.4" r="3.3" fill="#0000ff" fill-opacity="0.42"/>
<circle cx="731.6" cy="578.7" r="3.3" fill="#0000ff" fill-opacity="0.42"/>
<circle cx="731.6" cy="578.7" r="3.3" fill="#0000ff" fill-opacity="0.42"/>
<circle cx="733.3" cy="584.3" r="3.3" fill="#0000ff" fill-opacity="0.42"/>
<circle cx="720.9" cy="587.4" r="3.3" fill="#0000ff" fill-opacity="0.42"/>
<circle cx="730.8" cy="590.1" r="3.3" fill="#0000ff" fill-opacity="0.42"/>
<circle cx="724.6" cy="591.5" r="3.3" fill="#0000ff" fill-opacity="0.42"/>
<circle cx="699.2" cy="592.1" r="3.3" fill="#0000ff" fill-opacity="0.42"/>
<circle cx="700.5" cy="593.5" r="3.3" fill="#0000ff" fill-opacity="0.42"/>
<circle cx="707.5" cy="594.8" r="3.3" fill="#0000ff" fill-opacity="0.42"/>
<circle cx="719.9" cy="600" r="3.3" fill="#0000ff" fill-opacity="0.42"/>
<circle cx="700.7" cy="605.4" r="3.3" fill="#0000ff" fill-opacity="0.42"/>
<circle cx="712.7" cy="606.6" r="3.3" fill="#0000ff" fill-opacity="0.42"/>
<circle cx="698.8" cy="615.5" r="3.3" fill="#0000ff" fill-opacity="0.42"/>
<circle cx="733.7" cy="618.6" r="3.3" fill="#0000ff" fill-opacity="0.42"/>
<circle cx="929.3" cy="603.1" r="3.3" fill="#ff0000" fill-opacity="0.42"/>
<circle cx="949" cy="603.8" r="3.3" fill="#ff0000" fill-opacity="0.42"/>
<circle cx="935.9" cy="610.8" r="3.3" fill="#ff0000" fill-opacity="0.42"/>
<circle cx="938.1" cy="614.5" r="3.3" fill="#ff0000" fill-opacity="0.42"/>
<circle cx="953.4" cy="613.6" r="3.3" fill="#ff0000" fill-opacity="0.42"/>
<circle cx="957.8" cy="613" r="3.3" fill="#ff0000" fill-opacity="0.42"/>
<circle cx="950.1" cy="619.5" r="3.3" fill="#ff0000" fill-opacity="0.42"/>
<circle cx="926.1" cy="621.7" r="3.3" fill="#ff0000" fill-opacity="0.42"/>
<circle cx="931.5" cy="623.2" r="3.3" fill="#ff0000" fill-opacity="0.42"/>
<circle cx="934.8" cy="626.1" r="3.3" fill="#ff0000" fill-opacity="0.42"/>
<circle cx="927.6" cy="630.9" r="3.3" fill="#ff0000" fill-opacity="0.42"/>
<circle cx="943.6" cy="631.1" r="3.3" fill="#ff0000" fill-opacity="0.42"/>
<circle cx="966.5" cy="629.3" r="3.3" fill="#ff0000" fill-opacity="0.42"/>
<circle cx="951.2" cy="633.7" r="3.3" fill="#ff0000" fill-opacity="0.42"/>
<circle cx="961" cy="635.5" r="3.3" fill="#ff0000" fill-opacity="0.42"/>
<circle cx="965.4" cy="636.6" r="3.3" fill="#ff0000" fill-opacity="0.42"/>
<circle cx="943.6" cy="637.7" r="3.3" fill="#ff0000" fill-opacity="0.42"/>
<circle cx="957.3" cy="638.5" r="3.3" fill="#ff0000" fill-opacity="0.42"/>
<circle cx="951.9" cy="641.4" r="3.3" fill="#ff0000" fill-opacity="0.42"/>
<circle cx="962.1" cy="642.9" r="3.3" fill="#ff0000" fill-opacity="0.42"/>
<circle cx="931.5" cy="648.6" r="3.3" fill="#ff0000" fill-opacity="0.42"/>
<circle cx="938.1" cy="649" r="3.3" fill="#ff0000" fill-opacity="0.42"/>
<circle cx="939.2" cy="652.7" r="3.3" fill="#ff0000" fill-opacity="0.42"/>
<circle cx="960" cy="649.5" r="3.3" fill="#ff0000" fill-opacity="0.42"/>
<circle cx="956.7" cy="655.1" r="3.3" fill="#ff0000" fill-opacity="0.42"/>
<circle cx="930" cy="658.4" r="3.3" fill="#ff0000" fill-opacity="0.42"/>
<circle cx="941.4" cy="661" r="3.3" fill="#ff0000" fill-opacity="0.42"/>
<circle cx="945.3" cy="661.7" r="3.3" fill="#ff0000" fill-opacity="0.42"/>
<circle cx="964.3" cy="660" r="3.3" fill="#ff0000" fill-opacity="0.42"/>
<circle cx="958.2" cy="664.3" r="3.3" fill="#ff0000" fill-opacity="0.42"/>
<circle cx="961" cy="666.5" r="3.3" fill="#ff0000" fill-opacity="0.42"/>
<circle cx="969.1" cy="666.5" r="3.3" fill="#ff0000" fill-opacity="0.42"/>
<circle cx="940.3" cy="668.7" r="3.3" fill="#ff0000" fill-opacity="0.42"/>
<circle cx="937.7" cy="673.1" r="3.3" fill="#ff0000" fill-opacity="0.42"/>
<circle cx="947.9" cy="676.3" r="3.3" fill="#ff0000" fill-opacity="0.42"/>
<circle cx="950.8" cy="677.4" r="3.3" fill="#ff0000" fill-opacity="0.42"/>
<circle cx="956.7" cy="675.7" r="3.3" fill="#ff0000" fill-opacity="0.42"/>
<circle cx="958" cy="676" r="3.3" fill="#ff0000" fill-opacity="0.42"/>
<circle cx="966.1" cy="675.7" r="3.3" fill="#ff0000" fill-opacity="0.42"/>
<circle cx="954" cy="684.4" r="3.3" fill="#ff0000" fill-opacity="0.42"/>
<circle cx="957.8" cy="687.7" r="3.3" fill="#ff0000" fill-opacity="0.42"/>
<circle cx="925" cy="691" r="3.3" fill="#ff0000" fill-opacity="0.42"/>
<circle cx="949" cy="694.3" r="3.3" fill="#ff0000" fill-opacity="0.42"/>
<circle cx="951" cy="694.3" r="3.3" fill="#ff0000" fill-opacity="0.42"/>
<circle cx="955.6" cy="696.7" r="3.3" fill="#ff0000" fill-opacity="0.42"/>
<circle cx="964.8" cy="691" r="3.3" fill="#ff0000" fill-opacity="0.42"/>
<circle cx="969.8" cy="690.5" r="3.3" fill="#ff0000" fill-opacity="0.42"/>
<circle cx="970.4" cy="696.4" r="3.3" fill="#ff0000" fill-opacity="0.42"/>
<circle cx="933.3" cy="700.4" r="3.3" fill="#ff0000" fill-opacity="0.42"/>
<circle cx="942.5" cy="698.2" r="3.3" fill="#ff0000" fill-opacity="0.42"/>
<circle cx="947.3" cy="704.8" r="3.3" fill="#ff0000" fill-opacity="0.42"/>
<circle cx="936.6" cy="708.7" r="3.3" fill="#ff0000" fill-opacity="0.42"/>
<circle cx="938.5" cy="716.1" r="3.3" fill="#ff0000" fill-opacity="0.42"/>
<circle cx="955.1" cy="712.8" r="3.3" fill="#ff0000" fill-opacity="0.42"/>
<circle cx="960.4" cy="712.4" r="3.3" fill="#ff0000" fill-opacity="0.42"/>
<circle cx="964.3" cy="716.3" r="3.3" fill="#ff0000" fill-opacity="0.42"/>
<circle cx="945.7" cy="727.7" r="3.3" fill="#ff0000" fill-opacity="0.42"/>
<circle cx="925" cy="744.5" r="3.3" fill="#ff0000" fill-opacity="0.42"/>
<circle cx="953.4" cy="745.6" r="3.3" fill="#ff0000" fill-opacity="0.42"/>
<circle cx="930.4" cy="763.8" r="3.3" fill="#ff0000" fill-opacity="0.42"/>
<path d="M686.4,532.1 H755 V552.9 L738.2,567.4 L755,582.9 V590.5 H686.4 V582.9 L703,567.4 L686.4,552.9 Z" fill="none" stroke="#0000ff" stroke-width="2.1" stroke-linejoin="miter"/>
<line x1="703.00" y1="567.40" x2="738.20" y2="567.40" stroke="#0000ff" stroke-width="2.3" />
<line x1="704.10" y1="491.60" x2="737.50" y2="491.60" stroke="#0000ff" stroke-width="2.3" />
<line x1="704.10" y1="618.60" x2="737.50" y2="618.60" stroke="#0000ff" stroke-width="2.3" />
<line x1="720.80" y1="532.10" x2="720.80" y2="491.60" stroke="#0000ff" stroke-width="2.3" stroke-dasharray="8.6,9"/>
<line x1="720.80" y1="618.60" x2="720.80" y2="590.50" stroke="#0000ff" stroke-width="2.3" stroke-dasharray="8.6,9"/>
<path d="M913.6,639.2 H982.9 V655.1 L966.5,665 L982.9,674.8 V693.8 H913.6 V674.8 L930.4,665 L913.6,655.1 Z" fill="none" stroke="#ff0000" stroke-width="2.1" stroke-linejoin="miter"/>
<line x1="930.40" y1="665.00" x2="966.50" y2="665.00" stroke="#ff0000" stroke-width="2.3" />
<line x1="930.90" y1="603.10" x2="965.10" y2="603.10" stroke="#ff0000" stroke-width="2.3" />
<line x1="930.90" y1="745.60" x2="965.10" y2="745.60" stroke="#ff0000" stroke-width="2.3" />
<line x1="948.00" y1="639.20" x2="948.00" y2="603.10" stroke="#ff0000" stroke-width="2.3" stroke-dasharray="8.6,9"/>
<line x1="948.00" y1="745.60" x2="948.00" y2="693.80" stroke="#ff0000" stroke-width="2.3" stroke-dasharray="8.6,9"/>
</svg></body></html>
